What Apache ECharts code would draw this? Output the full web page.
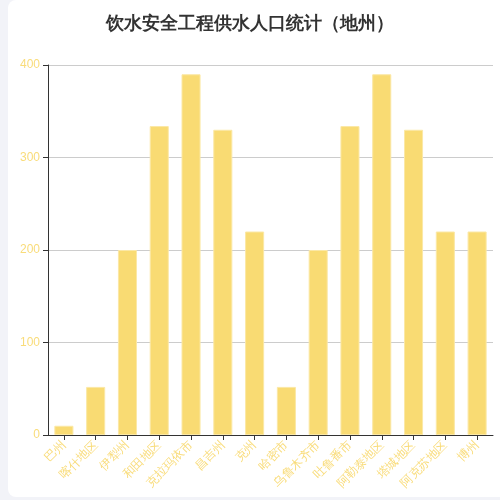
<!DOCTYPE html>
<html><head><meta charset="utf-8">
<script src="https://cdn.jsdelivr.net/npm/echarts@6/dist/echarts.min.js"></script>
<style>
html,body{margin:0;padding:0;background:#f2f3f8;width:500px;height:500px;overflow:hidden;}
#card{position:absolute;left:8px;top:0;width:520px;height:497px;background:#fff;border-radius:8px;}
#main{position:absolute;left:0;top:0;width:500px;height:500px;}
</style></head>
<body>
<div id="card"></div>
<div id="main"></div>
<script>
var categories = ['巴州','喀什地区','伊犁州','和田地区','克拉玛依市','昌吉州','克州','哈密市','乌鲁木齐市','吐鲁番市','阿勒泰地区','塔城地区','阿克苏地区','博州'];
var values = [10, 52, 200, 334, 390, 330, 220, 52, 200, 334, 390, 330, 220, 220];
var yTicks = { min: 0, max: 400, interval: 100 };

var chart = echarts.init(document.getElementById('main'), null, {renderer:'canvas'});
chart.setOption({
  backgroundColor: 'transparent',
  title: {
    text: '饮水安全工程供水人口统计（地州）',
    left: 'center', top: 15,
    textStyle: { fontSize: 18, fontWeight: 'bold', color: '#333' },
    padding: [0,0,0,8]
  },
  grid: { left: 48, right: 7, top: 65, bottom: 65 },
  xAxis: {
    type: 'category',
    data: categories,
    axisLine: { lineStyle: { color: '#333' } },
    axisTick: { show: true, alignWithLabel: true, lineStyle: { color: '#333' } },
    axisLabel: { rotate: 45, color: '#f9dc7a', fontSize: 12, interval: 0, margin: 8 }
  },
  yAxis: {
    type: 'value',
    min: yTicks.min, max: yTicks.max, interval: yTicks.interval,
    axisLine: { show: true, lineStyle: { color: '#333' } },
    axisTick: { show: true, lineStyle: { color: '#333' } },
    axisLabel: { color: '#f9dc7a', fontSize: 12 },
    splitLine: { lineStyle: { color: '#ccc' } }
  },
  series: [{
    type: 'bar',
    data: values,
    barWidth: '60%',
    itemStyle: { color: '#f9db73', borderColor: '#fbe8a6', borderWidth: 1 }
  }]
});
</script>
</body></html>
